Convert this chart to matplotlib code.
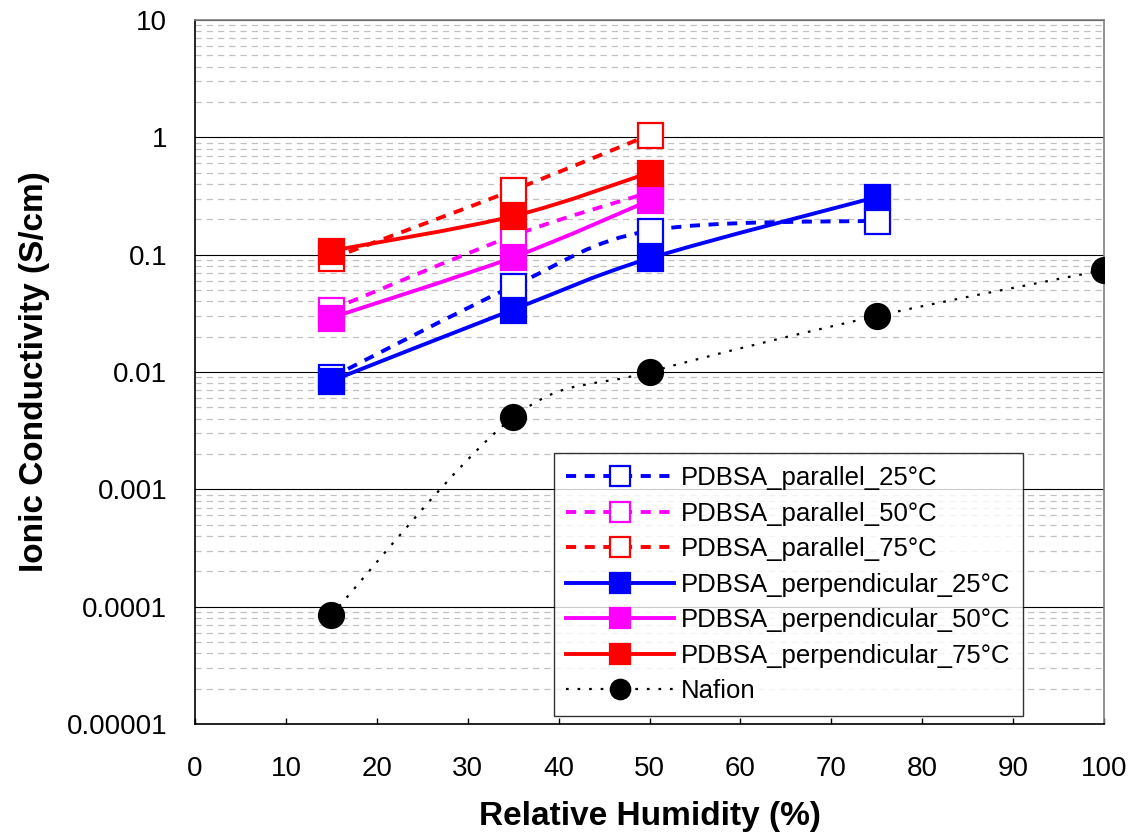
import numpy as np
import matplotlib.pyplot as plt
from matplotlib.path import Path
from matplotlib.patches import PathPatch
from matplotlib.lines import Line2D
from matplotlib.ticker import FixedLocator, FuncFormatter

plt.rcParams['font.family'] = ['Liberation Sans', 'DejaVu Sans']

# data
rh = [15, 35, 50, 75]
rh_3 = [15, 35, 50]
rh_nafion = [15, 35, 50, 75, 100]

par_25 = [0.009, 0.054, 0.16, 0.195]
par_50 = [0.034, 0.145, 0.34]
par_75 = [0.093, 0.355, 1.05]
perp_25 = [0.0084, 0.034, 0.093, 0.31]
perp_50 = [0.029, 0.095, 0.29]
perp_75 = [0.108, 0.213, 0.50]
nafion = [8.5e-5, 0.0041, 0.010, 0.030, 0.074]

labels = ['PDBSA_parallel_25°C', 'PDBSA_parallel_50°C', 'PDBSA_parallel_75°C',
          'PDBSA_perpendicular_25°C', 'PDBSA_perpendicular_50°C',
          'PDBSA_perpendicular_75°C', 'Nafion']


def smooth_path(x, y):
    # excel style smoothed line: cubic bezier in (x, log y) space
    x = np.asarray(x, float)
    ly = np.log10(np.asarray(y, float))
    pts = np.column_stack([x, ly])
    n = len(pts)
    verts = [pts[0]]
    codes = [Path.MOVETO]
    for i in range(n - 1):
        p0 = pts[i - 1] if i > 0 else pts[i]
        p1 = pts[i]
        p2 = pts[i + 1]
        p3 = pts[i + 2] if i + 2 < n else pts[i + 1]
        c1 = p1 + (p2 - p0) / 6
        c2 = p2 - (p3 - p1) / 6
        verts += [c1, c2, p2]
        codes += [Path.CURVE4] * 3
    verts = np.array(verts)
    verts[:, 1] = 10 ** verts[:, 1]
    return Path(verts, codes)


fig = plt.figure(figsize=(11.45, 8.34), dpi=100)
ax = fig.add_axes([0.1703, 0.1319, 0.7939, 0.8441])
ax.set_yscale('log')
ax.set_xlim(0, 100)
ax.set_ylim(1e-5, 10)

dash = (0, (2.6, 2.2))
series = [
    (rh, par_25, 'blue', dash, 'open', 's'),
    (rh_3, par_50, '#FF00FF', dash, 'open', 's'),
    (rh_3, par_75, 'red', dash, 'open', 's'),
    (rh, perp_25, 'blue', '-', 'filled', 's'),
    (rh_3, perp_50, '#FF00FF', '-', 'filled', 's'),
    (rh_3, perp_75, 'red', '-', 'filled', 's'),
    (rh_nafion, nafion, 'black', (0, (1.2, 4)), 'filled', 'o'),
]

handles = []
for i, (xs, ys, c, ls, fill, mk) in enumerate(series):
    lw = 1.6 if mk == 'o' else 2.8
    patch = PathPatch(smooth_path(xs, ys), fill=False, edgecolor=c,
                      linewidth=lw, linestyle=ls, zorder=3 + i)
    ax.add_patch(patch)
    face = 'white' if fill == 'open' else c
    ms = 18
    ax.plot(xs, ys, linestyle='none', marker=mk, markersize=ms,
            markerfacecolor=face, markeredgecolor=c, markeredgewidth=1.6,
            zorder=3 + i)
    handles.append(Line2D([], [], color=c, linestyle=ls, linewidth=lw,
                          marker=mk, markersize=14,
                          markerfacecolor=face, markeredgecolor=c,
                          markeredgewidth=1.6))

# gridlines
ax.yaxis.set_major_locator(FixedLocator([1e-5, 1e-4, 1e-3, 1e-2, 1e-1, 1, 10]))
minor = [m * 10.0 ** e for e in range(-5, 1) for m in range(2, 10)]
ax.yaxis.set_minor_locator(FixedLocator(minor))
ax.yaxis.set_major_formatter(FuncFormatter(lambda v, p: ('%.5f' % v).rstrip('0').rstrip('.') if v < 1 else '%d' % v))
ax.yaxis.set_minor_formatter(FuncFormatter(lambda v, p: ''))
ax.grid(True, which='major', axis='y', color='black', linewidth=0.8)
ax.grid(True, which='minor', axis='y', color='#c0c0c0', linewidth=0.9,
        linestyle=(0, (5, 4)))
ax.set_axisbelow(True)

ax.set_xticks(np.arange(0, 101, 10))
ax.tick_params(axis='x', which='major', labelsize=20, direction='in',
               length=4, width=1, pad=23)
ax.tick_params(axis='y', which='major', labelsize=20, length=0, pad=20)
ax.tick_params(axis='y', which='minor', length=0)
ax.spines['top'].set_color('#808080')
ax.spines['right'].set_color('#808080')
for s in ax.spines.values():
    s.set_linewidth(1.2)

ax.set_xlabel('Relative Humidity (%)', fontsize=24, fontweight='bold', labelpad=14)
ax.set_ylabel('Ionic Conductivity (S/cm)', fontsize=24, fontweight='bold', labelpad=12)

leg = ax.legend(handles, labels, loc='lower right', bbox_to_anchor=(0.911, 0.011),
                fontsize=18.5, frameon=True, fancybox=False, edgecolor='black',
                handlelength=4.2, labelspacing=0.45, borderpad=0.5,
                handletextpad=0.25, borderaxespad=0)
leg.get_frame().set_linewidth(1.0)
leg.set_zorder(20)

fig.savefig('out.png', dpi=100)
